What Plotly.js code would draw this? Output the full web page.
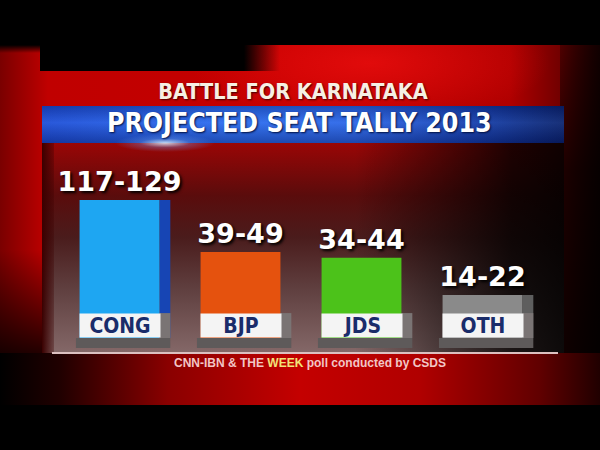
<!DOCTYPE html>
<html>
<head>
<meta charset="utf-8">
<script src="https://cdn.plot.ly/plotly-3.0.1.min.js"></script>
<style>
  html, body { margin: 0; padding: 0; background: #000; }
  #wrap { position: relative; width: 600px; height: 450px; background: #000; overflow: hidden; }
  .layer { position: absolute; }
  #red {
    left: 0; top: 45px; width: 600px; height: 360px;
    background:
      radial-gradient(ellipse 180px 60px at 370px 18px, rgba(255,20,20,0.55), rgba(255,0,0,0) 100%),
      linear-gradient(to right, #7a0000 0%, #c00000 8%, #c40000 50%, #b00000 85%, #400000 100%);
  }
  #tl { left: 40px; top: 45px; width: 240px; height: 26px;
    background: linear-gradient(to right, #000 0%, #000 85%, rgba(0,0,0,0) 100%); }
  #tl2 { left: 0px; top: 45px; width: 40px; height: 8px; background: linear-gradient(to bottom, #000, rgba(0,0,0,0)); }
  #leftdark { left: 0; top: 250px; width: 60px; height: 155px;
    background: linear-gradient(to bottom, rgba(0,0,0,0) 0%, rgba(0,0,0,0.85) 70%, #000 100%); }
  #bottom { left: 0; top: 353px; width: 600px; height: 52px;
    background: linear-gradient(to right, #000 0%, #200000 10%, #8a0000 28%, #c40000 50%, #b00000 70%, #600000 90%, #200000 100%); }
  #rightdark { left: 560px; top: 45px; width: 40px; height: 360px;
    background:
      linear-gradient(to bottom, rgba(0,0,0,0) 0%, rgba(0,0,0,0.6) 35%, rgba(0,0,0,0.85) 100%),
      linear-gradient(to right, rgba(0,0,0,0.3), rgba(0,0,0,0.75)); }
  #panel { left: 42px; top: 143px; width: 522px; height: 210px;
    background:
      linear-gradient(to right, rgba(0,0,0,0) 0%, rgba(0,0,0,0) 60%, rgba(0,0,0,0.8) 90%, rgba(0,0,0,0.9) 100%),
      linear-gradient(to bottom, #9a0606 0%, #5a0c0c 25%, #4a1c1c 45%, #604040 70%, #846868 100%); }
  #panelL { left: 42px; top: 143px; width: 12px; height: 210px;
    background: linear-gradient(to right, #3a0000, rgba(60,0,0,0.3)); }
  #band { left: 42px; top: 106px; width: 522px; height: 37px;
    background:
      linear-gradient(to bottom, rgba(0,0,40,0.25) 0%, rgba(255,255,255,0.06) 45%, rgba(0,0,40,0.3) 100%),
      linear-gradient(to right, #1c4ed8 0%, #2a6cf0 35%, #2a66e8 60%, #1540b0 82%, #0a2470 100%); }
  #glow { left: 110px; top: 132px; width: 110px; height: 22px;
    background: radial-gradient(ellipse 50px 9px at 55px 11px, rgba(220,240,255,0.85), rgba(120,170,255,0.3) 50%, rgba(0,0,0,0) 100%); }
  #chart { position: absolute; left: 0; top: 0; width: 600px; height: 450px; }
</style>
</head>
<body>
<div id="wrap">
  <div class="layer" id="red"></div>
  <div class="layer" id="tl"></div>
  <div class="layer" id="tl2"></div>
  <div class="layer" id="leftdark"></div>
  <div class="layer" id="rightdark"></div>
  <div class="layer" id="bottom"></div>
  <div class="layer" id="panel"></div>
  <div class="layer" id="panelL"></div>
  <div class="layer" id="band"></div>
  <div class="layer" id="glow"></div>
  <div id="chart"></div>
</div>
<script>
// ---- data ----
const parties   = ['CONG', 'BJP', 'JDS', 'OTH'];
const seatsLow  = [117, 39, 34, 14];
const seatsHigh = [129, 49, 44, 22];
const barColors  = ['#1ea6f2', '#e5520e', '#4cc21a', '#8a8a8a'];
const sideColors = ['#1745b4', 'rgba(0,0,0,0)', 'rgba(0,0,0,0)', '#5e5e5e'];
const titleTop  = 'BATTLE FOR KARNATAKA';
const titleBand = 'PROJECTED SEAT TALLY 2013';
const footer    = 'CNN-IBN &amp; THE <span style="color:#f2e27a">WEEK</span> poll conducted by CSDS';

const rangeLabels = seatsLow.map((lo, i) => lo + '-' + seatsHigh[i]);

const narrow = '"Liberation Sans Narrow", "DejaVu Sans Condensed", "Arial Narrow", sans-serif';

// 3D side faces (drawn first, behind the fronts)
const sides = {
  type: 'bar', x: parties, y: seatsHigh, width: 0.09, offset: 0.33,
  marker: { color: sideColors, line: { width: 0 } }, hoverinfo: 'none'
};

const fronts = {
  type: 'bar',
  x: parties,
  y: seatsHigh,
  text: rangeLabels,
  textposition: 'outside',
  constraintext: 'none',
  cliponaxis: false,
  textfont: { family: '"DejaVu Sans", sans-serif', size: 27, color: '#ffffff', weight: 'bold',
              shadow: '2px 2px 3px #000' },
  marker: { color: barColors, line: { width: 0 } },
  hoverinfo: 'none'
};

const annotations = parties.map(p => ({
  x: p, xref: 'x', y: 0, yref: 'paper', yanchor: 'bottom', xanchor: 'center',
  text: p, showarrow: false, width: 80, height: 23, borderpad: 0,
  bgcolor: '#f4f4f4',
  font: { family: narrow, size: 21, color: '#1a2c6a', weight: 'bold' }
}));
annotations.push({
  x: 0.496, xref: 'paper', y: 1.208, yref: 'paper', xanchor: 'center', yanchor: 'middle',
  text: titleBand, showarrow: false,
  font: { family: narrow, size: 26.5, color: '#ffffff', weight: 'bold', shadow: '1px 1px 2px #001040' }
});
annotations.push({
  x: 0.5176, xref: 'paper', y: -0.1404, yref: 'paper', xanchor: 'center', yanchor: 'middle',
  text: footer, showarrow: false,
  font: { family: '"Liberation Sans", Arial, sans-serif', size: 12, color: '#f2c6c6', weight: 'bold' }
});

// pedestals under the label boxes (base + right-hand side block)
const shapes = [];
parties.forEach((p, i) => {
  shapes.push({
    type: 'rect', xref: 'x', yref: 'paper', x0: i - 0.36, x1: i + 0.42, y0: -0.056, y1: 0,
    fillcolor: '#5e5a5a', line: { width: 0 }, layer: 'above'
  });
  shapes.push({
    type: 'rect', xref: 'x', yref: 'paper', x0: i + 0.33, x1: i + 0.42, y0: 0, y1: 0.14,
    fillcolor: '#7a7474', line: { width: 0 }, layer: 'above'
  });
});
shapes.push({
  type: 'line', xref: 'paper', yref: 'paper', x0: -0.0145, x1: 1.031, y0: -0.084, y1: -0.084,
  line: { color: '#dcc0c0', width: 2 }
});

const layout = {
  width: 600, height: 450,
  margin: { l: 59, r: 57, t: 160, b: 112, pad: 0 },
  paper_bgcolor: 'rgba(0,0,0,0)',
  plot_bgcolor: 'rgba(0,0,0,0)',
  showlegend: false,
  barmode: 'overlay',
  bargap: 0.34,
  title: {
    text: titleTop, x: 293 / 600, xref: 'container', xanchor: 'center',
    y: 1 - 91 / 450, yref: 'container', yanchor: 'middle',
    font: { family: narrow, size: 21.5, color: '#f6f0e4', weight: 'bold', shadow: '1px 1px 2px #400000' }
  },
  xaxis: { type: 'category', showgrid: false, zeroline: false, showline: false,
           showticklabels: false, ticks: '', fixedrange: true },
  yaxis: { type: 'log', range: [0.9935, 2.435], visible: false, showgrid: false,
           zeroline: false, fixedrange: true },
  annotations: annotations,
  shapes: shapes
};

Plotly.newPlot('chart', [sides, fronts], layout, { displayModeBar: false, staticPlot: true });
</script>
</body>
</html>
